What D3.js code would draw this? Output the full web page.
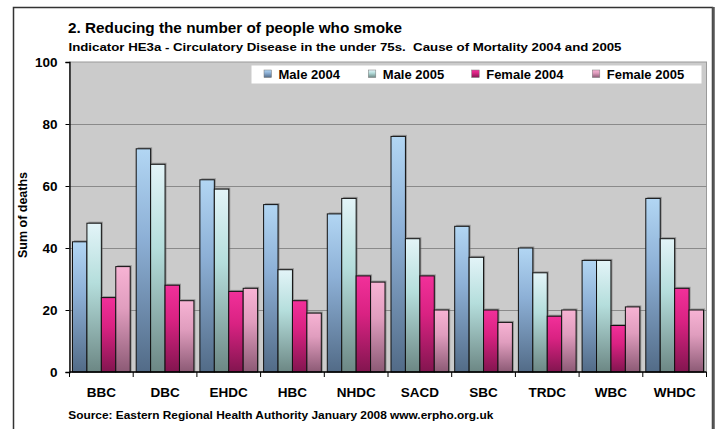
<!DOCTYPE html>
<html>
<head>
<meta charset="utf-8">
<script src="https://cdn.jsdelivr.net/npm/d3@7"></script>
<style>
  html, body { margin: 0; padding: 0; background: #fff; }
  svg { display: block; font-family: "Liberation Sans", Arial, sans-serif; }
  text { white-space: pre; }
</style>
</head>
<body>
<svg id="chart" width="719" height="429"></svg>
<script>
// Circulatory disease deaths (under 75s) by district, 2004 and 2005
const categories = ["BBC", "DBC", "EHDC", "HBC", "NHDC", "SACD", "SBC", "TRDC", "WBC", "WHDC"];
const seriesNames = ["Male 2004", "Male 2005", "Female 2004", "Female 2005"];
const male2004   = [42, 72, 62, 54, 51, 76, 47, 40, 36, 56];
const male2005   = [48, 67, 59, 33, 56, 43, 37, 32, 36, 43];
const female2004 = [24, 28, 26, 23, 31, 31, 20, 18, 15, 27];
const female2005 = [34, 23, 27, 19, 29, 20, 16, 20, 21, 20];
const yTicks = [0, 20, 40, 60, 80, 100];

const titleText = "2. Reducing the number of people who smoke";
const subtitleText = "Indicator HE3a - Circulatory Disease in the under 75s.  Cause of Mortality 2004 and 2005";
const yTitle = "Sum of deaths";
const sourceText = "Source: Eastern Regional Health Authority January 2008 www.erpho.org.uk";

const seriesValues = [male2004, male2005, female2004, female2005];
// gradient stops per series: top, middle, bottom
const seriesGradients = [
  ["#B2D6F3", "#8DB0D6", "#526B87"],
  ["#E3F4F8", "#B5DEDC", "#6C8784"],
  ["#F2309A", "#D92282", "#82154F"],
  ["#F7B3D4", "#E09DBE", "#8C5A75"]
];

const svg = d3.select("#chart");
const margin = { left: 69.5, right: 706.5, top: 62, bottom: 372 };

// defs: vertical gradients per series
const defs = svg.append("defs");
seriesGradients.forEach((stops, i) => {
  const g = defs.append("linearGradient")
    .attr("id", "grad" + i)
    .attr("x1", 0).attr("y1", 0).attr("x2", 0).attr("y2", 1);
  g.append("stop").attr("offset", "0%").attr("stop-color", stops[0]);
  g.append("stop").attr("offset", "40%").attr("stop-color", stops[1]);
  g.append("stop").attr("offset", "100%").attr("stop-color", stops[2]);
});

// outer frame
svg.append("rect")
  .attr("x", 13.5).attr("y", 7.5)
  .attr("width", 699).attr("height", 440)
  .attr("fill", "#fff")
  .attr("stroke", "#333").attr("stroke-width", 1.5);
svg.append("line")
  .attr("x1", 713.5).attr("x2", 713.5).attr("y1", 7).attr("y2", 429)
  .attr("stroke", "#555").attr("stroke-width", 2.5);

// scales
const x = d3.scaleBand().domain(categories).range([margin.left, margin.right]);
const xInner = d3.scaleBand().domain(d3.range(seriesNames.length))
  .range([3, x.bandwidth() - 3]);
const y = d3.scaleLinear().domain([0, 100]).range([margin.bottom, margin.top]);

// plot background
svg.append("rect")
  .attr("x", margin.left).attr("y", margin.top)
  .attr("width", margin.right - margin.left)
  .attr("height", margin.bottom - margin.top)
  .attr("fill", "#CBCBCB")
  .attr("stroke", "#9A9A9A").attr("stroke-width", 1);

// gridlines
svg.append("g")
  .selectAll("line")
  .data(yTicks.filter(t => t > 0 && t < 100))
  .join("line")
  .attr("x1", margin.left).attr("x2", margin.right)
  .attr("y1", d => Math.round(y(d)) + 0.5).attr("y2", d => Math.round(y(d)) + 0.5)
  .attr("stroke", "#8A8A8A").attr("stroke-width", 1);

// bars
const groups = svg.append("g").selectAll("g")
  .data(categories)
  .join("g")
  .attr("transform", d => `translate(${x(d)},0)`);

const barData = (cat, ci) => seriesValues.map((vals, si) => ({ si, v: vals[ci] }));

groups.each(function (cat, ci) {
  const g = d3.select(this);
  const data = barData(cat, ci);
  // soft shadow behind each bar
  g.selectAll("rect.shadow")
    .data(data)
    .join("rect")
    .attr("class", "shadow")
    .attr("x", d => xInner(d.si) + 1.5)
    .attr("y", d => y(d.v) - 1.5)
    .attr("width", xInner.bandwidth())
    .attr("height", d => y(0) - y(d.v) + 1.5)
    .attr("fill", "#6E6E6E").attr("opacity", 0.6);
  g.selectAll("rect.bar")
    .data(data)
    .join("rect")
    .attr("class", "bar")
    .attr("x", d => xInner(d.si))
    .attr("y", d => y(d.v))
    .attr("width", xInner.bandwidth())
    .attr("height", d => y(0) - y(d.v))
    .attr("fill", d => `url(#grad${d.si})`)
    .attr("stroke", "#111").attr("stroke-width", 1);
});

// y axis
const yAxis = svg.append("g")
  .attr("transform", `translate(${margin.left},0)`)
  .call(d3.axisLeft(y).tickValues(yTicks).tickSize(4).tickPadding(8).tickFormat(d3.format("d")));
yAxis.select(".domain").attr("stroke", "#000").attr("stroke-width", 1.3);
yAxis.selectAll(".tick line").attr("stroke", "#000");
yAxis.selectAll("text")
  .attr("font-size", 13.5).attr("font-weight", "bold").attr("fill", "#000")
  .attr("font-family", "Liberation Sans, Arial, sans-serif");

// x axis with ticks at category boundaries
const xAxisG = svg.append("g").attr("transform", `translate(0,${margin.bottom})`);
xAxisG.append("line")
  .attr("x1", margin.left).attr("x2", margin.right)
  .attr("y1", 0).attr("y2", 0)
  .attr("stroke", "#000").attr("stroke-width", 1.3);
const boundaries = categories.map(c => x(c)).concat([margin.right]);
xAxisG.selectAll("line.tick")
  .data(boundaries)
  .join("line")
  .attr("class", "tick")
  .attr("x1", d => d).attr("x2", d => d)
  .attr("y1", 0).attr("y2", 5)
  .attr("stroke", "#000");
xAxisG.selectAll("text")
  .data(categories)
  .join("text")
  .attr("x", d => x(d) + x.bandwidth() / 2)
  .attr("y", 24.7)
  .attr("text-anchor", "middle")
  .attr("font-size", 13.5).attr("font-weight", "bold")
  .text(d => d);

// titles
svg.append("text")
  .attr("x", 68).attr("y", 33)
  .attr("font-size", 14.5).attr("font-weight", "bold")
  .attr("textLength", 334).attr("lengthAdjust", "spacingAndGlyphs")
  .text(titleText);
svg.append("text")
  .attr("x", 68.5).attr("y", 51)
  .attr("font-size", 11.2).attr("font-weight", "bold")
  .attr("textLength", 553).attr("lengthAdjust", "spacingAndGlyphs")
  .text(subtitleText);

// y axis title
svg.append("text")
  .attr("transform", "translate(27,215) rotate(-90)")
  .attr("text-anchor", "middle")
  .attr("font-size", 12.5).attr("font-weight", "bold")
  .text(yTitle);

// source note
svg.append("text")
  .attr("x", 68.3).attr("y", 419.3)
  .attr("font-size", 11).attr("font-weight", "bold")
  .attr("textLength", 425).attr("lengthAdjust", "spacingAndGlyphs")
  .text(sourceText);

// legend
const legend = svg.append("g");
legend.append("rect")
  .attr("x", 251.5).attr("y", 65.5)
  .attr("width", 450).attr("height", 18)
  .attr("fill", "#fff");
const legendX = [264, 368.3, 471.7, 592.3];
seriesNames.forEach((name, i) => {
  legend.append("rect")
    .attr("x", legendX[i]).attr("y", 70)
    .attr("width", 7.5).attr("height", 7.5)
    .attr("fill", `url(#grad${i})`)
    .attr("stroke", "#777").attr("stroke-width", 0.5);
  legend.append("text")
    .attr("x", legendX[i] + 14.5).attr("y", 79.3)
    .attr("font-size", 13).attr("font-weight", "bold")
    .text(name);
});
</script>
</body>
</html>
